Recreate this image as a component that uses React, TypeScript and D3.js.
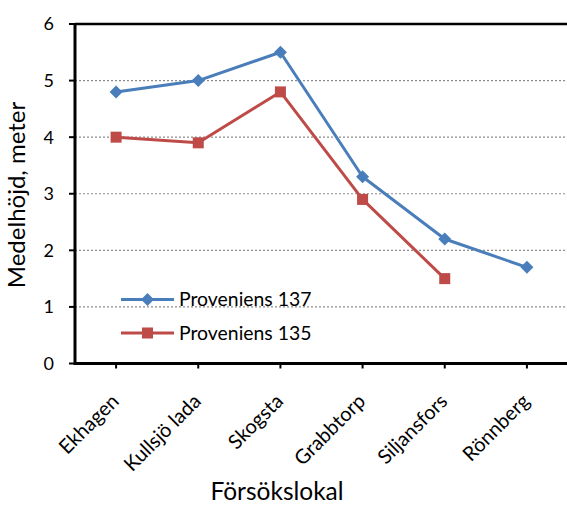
import React from "react";
import * as d3 from "d3";

const categories = ["Ekhagen", "Kullsjö lada", "Skogsta", "Grabbtorp", "Siljansfors", "Rönnberg"];
const series137 = [4.8, 5.0, 5.5, 3.3, 2.2, 1.7];
const series135: (number | null)[] = [4.0, 3.9, 4.8, 2.9, 1.5, null];
const yTicks = [0, 1, 2, 3, 4, 5, 6];
const seriesNames = ["Proveniens 137", "Proveniens 135"];

const W = 567, H = 505;
const left = 75, right = 568, top = 24, bottom = 363.5;
const FONT = "Lato, Carlito, Calibri, sans-serif";
const BLUE = "#4A7EBB";
const RED = "#BE4B48";

export default function App() {
  const x = d3.scaleBand<string>().domain(categories).range([left, right]);
  const cx = (c: string) => (x(c) as number) + x.bandwidth() / 2;
  const y = d3.scaleLinear().domain([0, 6]).range([bottom, top]);

  const line = d3
    .line<[string, number | null]>()
    .defined((d) => d[1] !== null)
    .x((d) => cx(d[0]))
    .y((d) => y(d[1] as number));

  const d137 = categories.map((c, i) => [c, series137[i]] as [string, number | null]);
  const d135 = categories.map((c, i) => [c, series135[i]] as [string, number | null]);

  const diamond = (px: number, py: number, key: string | number) => (
    <path key={key} d={`M${px},${py - 6.5}L${px + 6.5},${py}L${px},${py + 6.5}L${px - 6.5},${py}Z`} fill={BLUE} />
  );
  const square = (px: number, py: number, key: string | number) => (
    <rect key={key} x={px - 5.5} y={py - 5.5} width={11} height={11} fill={RED} />
  );

  return (
    <svg width={W} height={H} style={{ position: "absolute", left: 0, top: 0, background: "#fff" }} fontFamily={FONT}>
      {/* gridlines */}
      {yTicks.filter((t) => t > 0 && t < 6).map((t) => (
        <line key={t} x1={left} x2={W} y1={y(t)} y2={y(t)} stroke="#8c8c8c" strokeWidth={1.2} strokeDasharray="2,2" />
      ))}
      {/* top border */}
      <line x1={left} x2={W} y1={y(6)} y2={y(6)} stroke="#000" strokeWidth={2.5} />
      {/* y axis */}
      <line x1={left} x2={left} y1={top - 1} y2={bottom + 1.5} stroke="#000" strokeWidth={3} />
      {yTicks.map((t) => (
        <g key={t}>
          <line x1={left - 6} x2={left} y1={y(t)} y2={y(t)} stroke="#000" strokeWidth={2} />
          <text x={left - 21} y={y(t)} dy="0.36em" textAnchor="end" fontSize={18} fill="#000">{t}</text>
        </g>
      ))}
      {/* x axis */}
      <line x1={left} x2={W} y1={bottom} y2={bottom} stroke="#000" strokeWidth={3} />
      {categories.map((c) => (
        <g key={c}>
          <line x1={cx(c)} x2={cx(c)} y1={bottom} y2={bottom + 5} stroke="#000" strokeWidth={2} />
          <text
            transform={`translate(${cx(c) + 4},${bottom + 39}) rotate(-45)`}
            textAnchor="end"
            fontSize={20}
            fill="#000"
          >
            {c}
          </text>
        </g>
      ))}
      {/* lines */}
      <path d={line(d137) || ""} fill="none" stroke={BLUE} strokeWidth={3} strokeLinejoin="round" />
      <path d={line(d135) || ""} fill="none" stroke={RED} strokeWidth={3} strokeLinejoin="round" />
      {d137.filter((d) => d[1] !== null).map((d, i) => diamond(cx(d[0]), y(d[1] as number), i))}
      {d135.filter((d) => d[1] !== null).map((d, i) => square(cx(d[0]), y(d[1] as number), i))}
      {/* legend */}
      <g>
        <line x1={121} x2={174} y1={299.5} y2={299.5} stroke={BLUE} strokeWidth={3} />
        {diamond(147.5, 299.5, "l1")}
        <text x={179} y={299.5} dy="0.36em" fontSize={19.4} fill="#000">{seriesNames[0]}</text>
        <line x1={121} x2={174} y1={333} y2={333} stroke={RED} strokeWidth={3} />
        {square(147.5, 333, "l2")}
        <text x={179} y={333} dy="0.36em" fontSize={19.4} fill="#000">{seriesNames[1]}</text>
      </g>
      {/* axis titles */}
      <text transform={`translate(25,195) rotate(-90)`} textAnchor="middle" fontSize={24} fill="#000">
        Medelhöjd, meter
      </text>
      <text x={277} y={500} textAnchor="middle" fontSize={24.5} fill="#000">Försökslokal</text>
    </svg>
  );
}
